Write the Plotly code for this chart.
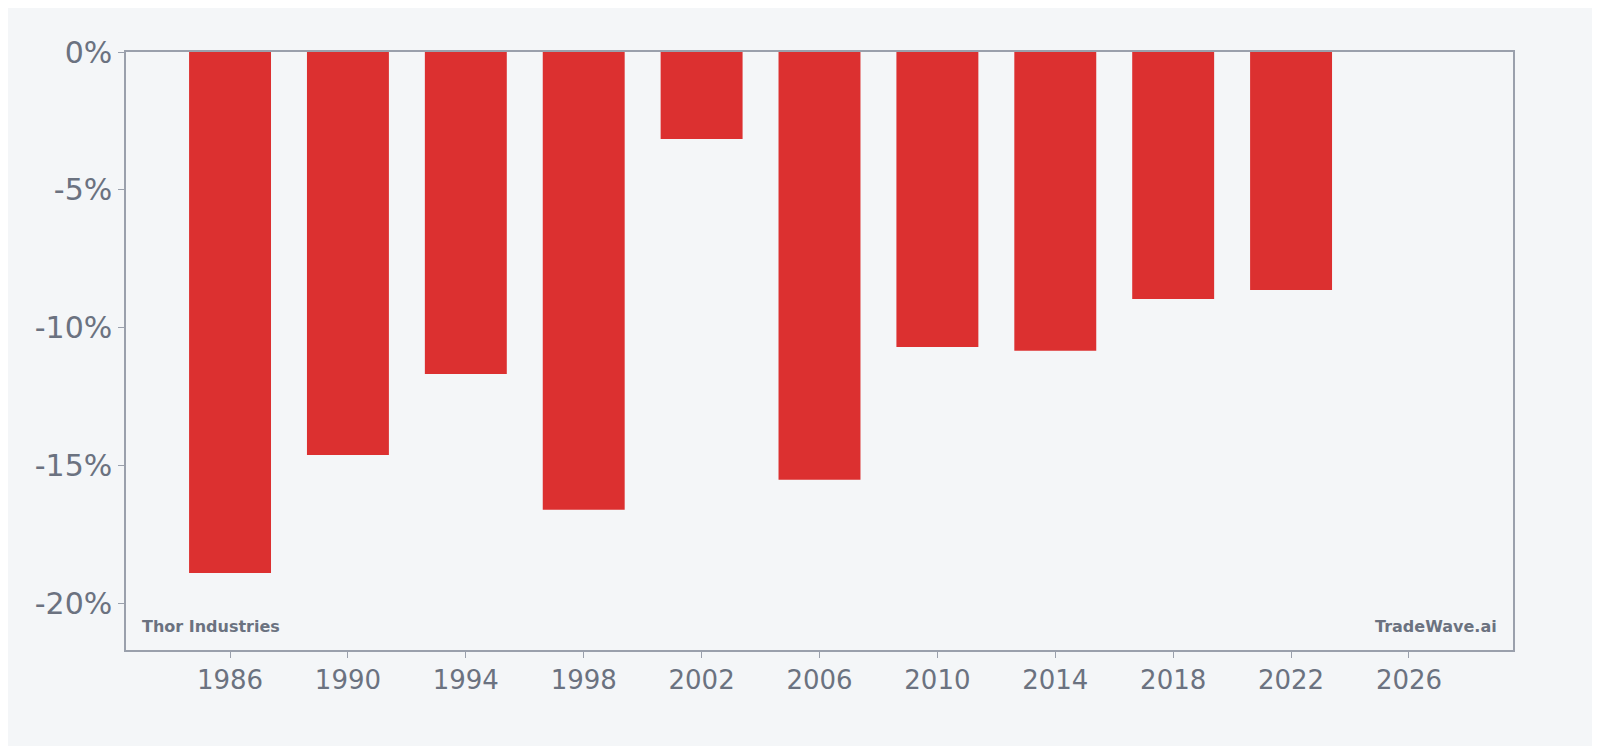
import plotly.graph_objects as go

years = [1986, 1990, 1994, 1998, 2002, 2006, 2010, 2014, 2018, 2022]
changes = [-18.88, -14.6, -11.67, -16.59, -3.15, -15.5, -10.69, -10.83, -8.95, -8.62]
y_ticks = [0, -5, -10, -15, -20]
y_labels = ["0%", "-5%", "-10%", "-15%", "-20%"]
x_ticks = [1986, 1990, 1994, 1998, 2002, 2006, 2010, 2014, 2018, 2022, 2026]

grey = "#6b7280"
bg = "#f4f6f8"

fig = go.Figure(go.Bar(x=years, y=changes, width=2.78, marker_color="#dc3030",
                       marker_line_width=0))

fig.update_layout(
    width=1600, height=746,
    margin=dict(l=118, r=95, t=44, b=104),
    paper_bgcolor=bg, plot_bgcolor=bg,
    font=dict(family="DejaVu Sans", color=grey),
    showlegend=False,
    xaxis=dict(range=[1982.47, 2029.53], tickvals=x_ticks, tickfont=dict(size=26),
               showgrid=False, zeroline=False, showline=True, linecolor="#9aa0ac",
               linewidth=1.5, mirror=True, ticks="outside", ticklen=6, tickcolor="#9aa0ac"),
    yaxis=dict(range=[-21.67, 0], tickvals=y_ticks, ticktext=y_labels, tickfont=dict(size=30),
               showgrid=False, zeroline=False, showline=True, linecolor="#9aa0ac",
               linewidth=1.5, mirror=True, ticks="outside", ticklen=6, tickcolor="#9aa0ac"),
    annotations=[
        dict(text="<b>Thor Industries</b>", xref="paper", yref="paper", x=0.01, y=0.02,
             xanchor="left", yanchor="bottom", showarrow=False, font=dict(size=16, color=grey)),
        dict(text="<b>TradeWave.ai</b>", xref="paper", yref="paper", x=0.99, y=0.02,
             xanchor="right", yanchor="bottom", showarrow=False, font=dict(size=16, color=grey)),
    ],
)

fig.write_html("out.html")
